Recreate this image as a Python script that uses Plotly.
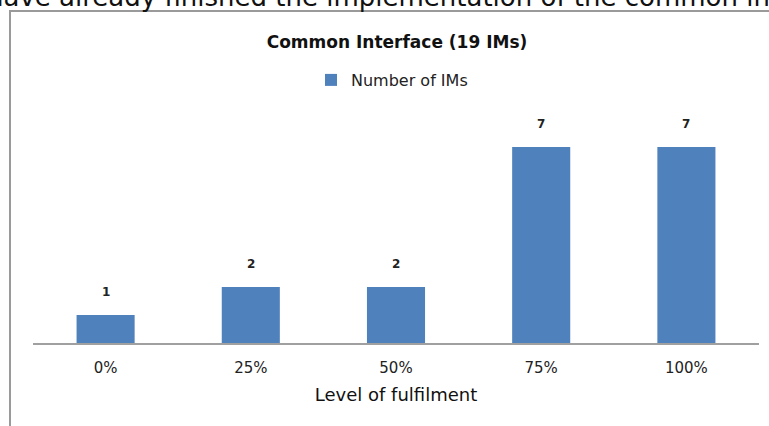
import plotly.graph_objects as go

# Data
levels = ['0%', '25%', '50%', '75%', '100%']
num_ims = [1, 2, 2, 7, 7]

chart_title = 'Common Interface (19 IMs)'
series_name = 'Number of IMs'
x_title = 'Level of fulfilment'
page_text = 'have already finished the implementation of the common interface'

W, H = 769, 426
M_L, M_R, M_T, M_B = 33, 10, 107, 83
plot_w = W - M_L - M_R
plot_h = H - M_T - M_B
FONT = 'DejaVu Sans'


def px_to_paper_x(px):
    return (px - M_L) / plot_w


def px_to_paper_y(py):
    return (H - M_B - py) / plot_h


fig = go.Figure()

fig.add_trace(go.Bar(
    x=levels,
    y=num_ims,
    name=series_name,
    marker=dict(color='#4F81BD', line=dict(width=0)),
    hoverinfo='skip',
    showlegend=True,
))

# value labels above the bars
for lvl, val in zip(levels, num_ims):
    fig.add_annotation(
        x=lvl, y=val, text='<b>%d</b>' % val, showarrow=False,
        yshift=23, font=dict(family=FONT, size=12, color='#222222'),
    )

# Frame of the embedded chart (left and top edges visible)
fig.add_shape(
    type='rect', xref='paper', yref='paper',
    x0=px_to_paper_x(10), x1=px_to_paper_x(800),
    y0=px_to_paper_y(500), y1=px_to_paper_y(11),
    line=dict(color='#9a9a9a', width=2), fillcolor='rgba(0,0,0,0)', layer='below',
)

# Surrounding document text, cut off at the top edge
fig.add_annotation(
    text=page_text, xref='paper', yref='paper',
    x=px_to_paper_x(-15), y=px_to_paper_y(14),
    xanchor='left', yanchor='bottom', showarrow=False,
    font=dict(family=FONT, size=26, color='#111111'),
)

fig.update_layout(
    width=W, height=H,
    margin=dict(l=M_L, r=M_R, t=M_T, b=M_B, pad=0),
    paper_bgcolor='white',
    plot_bgcolor='white',
    bargap=0.6,
    font=dict(family=FONT, color='#222222'),
    title=dict(
        text='<b>' + chart_title + '</b>', x=px_to_paper_x(397), xref='paper', xanchor='center',
        y=1 - 42 / H, yref='container', yanchor='middle',
        font=dict(family=FONT, size=17, color='#111111'),
    ),
    legend=dict(
        orientation='h', x=px_to_paper_x(392), y=px_to_paper_y(80),
        xanchor='center', yanchor='middle',
        font=dict(family=FONT, size=16, color='#222222'),
        itemwidth=30,
    ),
    showlegend=True,
)

fig.update_xaxes(
    showline=True, linecolor='#a0a0a0', linewidth=2,
    ticks='', showgrid=False, ticklabelstandoff=10,
    tickfont=dict(family=FONT, size=15, color='#222222'),
    title=dict(text=x_title, font=dict(family=FONT, size=18, color='#111111'), standoff=12),
)
fig.update_yaxes(
    visible=False, range=[0, plot_h / 28], showgrid=False, zeroline=False,
)

fig.write_html('out.html', config={'displayModeBar': False},
               post_script="document.body.style.margin='0';")
